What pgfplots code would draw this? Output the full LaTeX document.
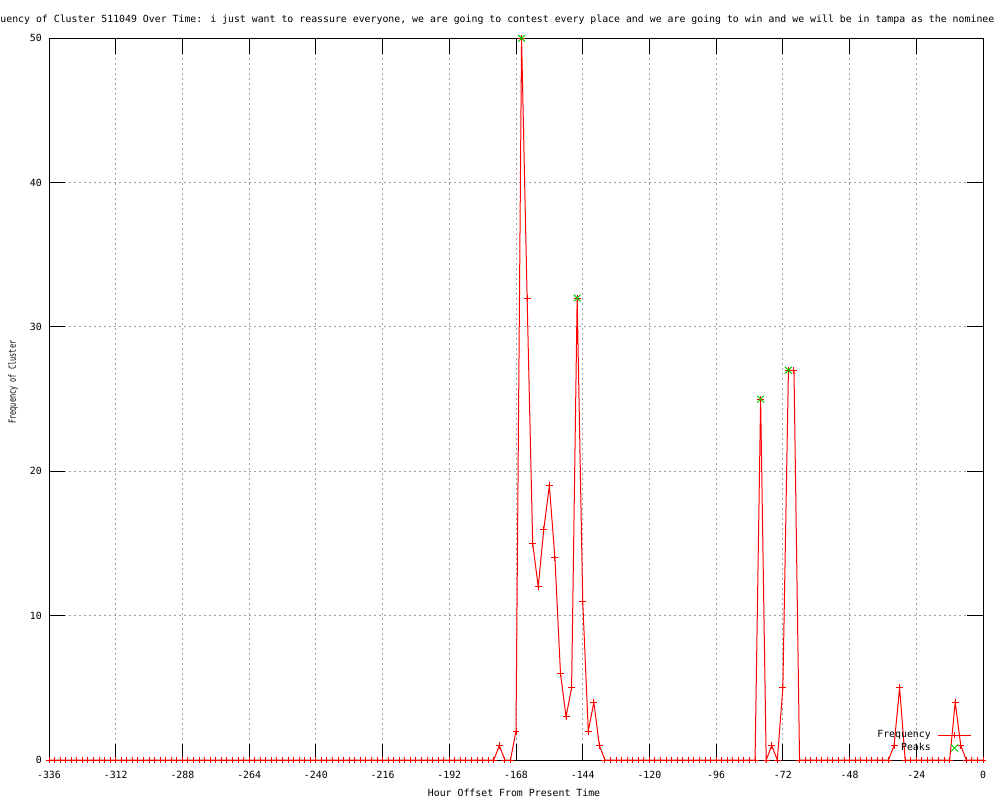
\documentclass[border=0pt]{standalone}
\usepackage{fontspec}
\usepackage{pgfplots}
\pgfplotsset{compat=1.18}
\newfontfamily\gp{DejaVu Sans Mono}
\newcommand\gpf{\gp\fontsize{7.4pt}{8.8pt}\selectfont}
\definecolor{gpred}{RGB}{255,0,0}
\definecolor{gpgreen}{RGB}{0,200,0}
\definecolor{gpgrid}{RGB}{160,160,160}
\begin{document}
\begin{tikzpicture}
\useasboundingbox (0,0) rectangle (750pt,600pt);
\begin{axis}[
  at={(36.75pt,30pt)}, anchor=south west,
  scale only axis, width=700.5pt, height=541.3pt,
  xmin=-336, xmax=0, ymin=0, ymax=50,
  xtick={-336,-312,...,0}, ytick={0,10,...,50},
  axis line style={black, line width=0.75pt},
  tick style={black, line width=0.75pt},
  major tick length=12pt,
  tick align=inside,
  grid=major,
  major grid style={gpgrid, line width=0.75pt, dash pattern=on 1.5pt off 2.25pt},
  /pgf/number format/assume math mode=true,
  ticklabel style={font=\gpf},
  xticklabel style={anchor=base, inner sep=0pt, yshift=-13.5pt},
  yticklabel style={anchor=east, inner sep=0pt, xshift=-5.25pt},
  title={Frequency of Cluster 511049 Over Time: i just want to reassure everyone, we are going to contest every place and we are going to win and we will be in tampa as the nominee},
  title style={font=\gpf, at={(1.0125,1.0222)}, anchor=base east, inner sep=0pt, yshift=-6pt},
  xlabel={Hour Offset From Present Time},
  xlabel style={font=\gpf, at={(0.4979,-0.0512)}, anchor=base, inner sep=0pt},
  ylabel={\scalebox{0.7}[1]{Frequency of Cluster}},
  ylabel style={font=\gpf, at={(-0.0385,0.5235)}, anchor=center, rotate=0, inner sep=0pt},
  clip=false,
  legend plot pos=right,
  legend cell align=right,
  legend image code/.code={\draw[mark repeat=2,mark phase=2,#1] plot coordinates {(0pt,0pt) (12.4pt,0pt) (24.8pt,0pt)};},
  legend style={draw=none, fill=none, font=\gpf, at={(0.988,0.0078)}, anchor=south east,
    inner sep=0pt, row sep=0.75pt, column sep=4pt, nodes={inner sep=1pt}},
]
\addplot[gpred, line width=0.75pt, mark=+, mark size=2.6pt, mark options={solid}] coordinates {
(-336,0) (-334,0) (-332,0) (-330,0) (-328,0) (-326,0) (-324,0) (-322,0) (-320,0) (-318,0)
(-316,0) (-314,0) (-312,0) (-310,0) (-308,0) (-306,0) (-304,0) (-302,0) (-300,0) (-298,0)
(-296,0) (-294,0) (-292,0) (-290,0) (-288,0) (-286,0) (-284,0) (-282,0) (-280,0) (-278,0)
(-276,0) (-274,0) (-272,0) (-270,0) (-268,0) (-266,0) (-264,0) (-262,0) (-260,0) (-258,0)
(-256,0) (-254,0) (-252,0) (-250,0) (-248,0) (-246,0) (-244,0) (-242,0) (-240,0) (-238,0)
(-236,0) (-234,0) (-232,0) (-230,0) (-228,0) (-226,0) (-224,0) (-222,0) (-220,0) (-218,0)
(-216,0) (-214,0) (-212,0) (-210,0) (-208,0) (-206,0) (-204,0) (-202,0) (-200,0) (-198,0)
(-196,0) (-194,0) (-192,0) (-190,0) (-188,0) (-186,0) (-184,0) (-182,0) (-180,0) (-178,0)
(-176,0) (-174,1) (-172,0) (-170,0) (-168,2) (-166,50) (-164,32) (-162,15) (-160,12) (-158,16)
(-156,19) (-154,14) (-152,6) (-150,3) (-148,5) (-146,32) (-144,11) (-142,2) (-140,4) (-138,1)
(-136,0) (-134,0) (-132,0) (-130,0) (-128,0) (-126,0) (-124,0) (-122,0) (-120,0) (-118,0)
(-116,0) (-114,0) (-112,0) (-110,0) (-108,0) (-106,0) (-104,0) (-102,0) (-100,0) (-98,0)
(-96,0) (-94,0) (-92,0) (-90,0) (-88,0) (-86,0) (-84,0) (-82,0) (-80,25) (-78,0)
(-76,1) (-74,0) (-72,5) (-70,27) (-68,27) (-66,0) (-64,0) (-62,0) (-60,0) (-58,0)
(-56,0) (-54,0) (-52,0) (-50,0) (-48,0) (-46,0) (-44,0) (-42,0) (-40,0) (-38,0)
(-36,0) (-34,0) (-32,1) (-30,5) (-28,0) (-26,0) (-24,0) (-22,0) (-20,0) (-18,0)
(-16,0) (-14,0) (-12,0) (-10,4) (-8,1) (-6,0) (-4,0) (-2,0) (0,0)
};
\addlegendentry{Frequency}
\addplot[gpgreen, only marks, mark=x, mark size=3.6pt, mark options={line width=0.75pt}] coordinates {
(-166,50) (-146,32) (-80,25) (-70,27)
};
\addlegendentry{Peaks}
\end{axis}
\end{tikzpicture}
\end{document}
